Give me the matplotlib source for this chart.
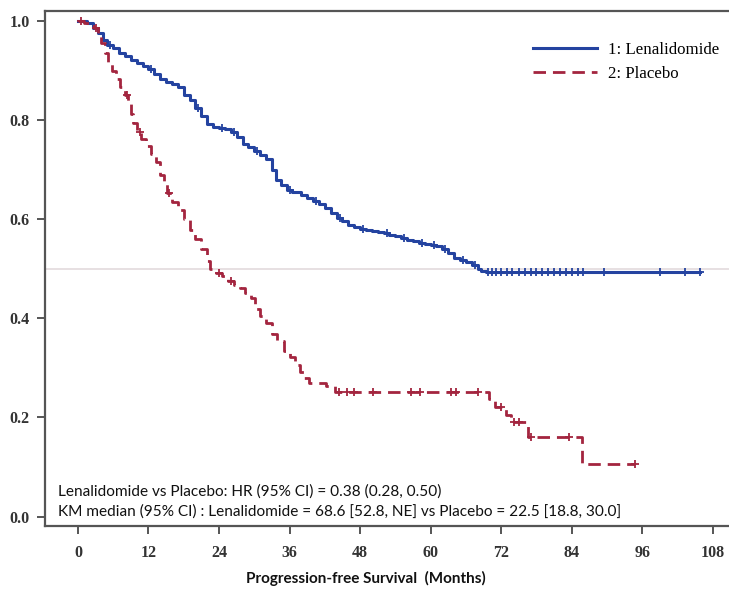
import matplotlib
matplotlib.use("Agg")
import matplotlib.pyplot as plt
import numpy as np

# ---------------- data ----------------
len_t = [0, 1.5, 2.5, 3.5, 4.2, 5, 6, 7, 8, 9, 10, 11, 12, 13, 14, 15, 16, 17, 18, 19, 20, 21, 22, 23,
         24, 25, 26, 27, 28, 29, 30, 31, 32, 33, 33.7, 34.5, 35.5, 36.5, 38, 39, 40, 41, 42, 43, 44, 45,
         46, 47, 48, 49, 50, 51, 52, 53, 54, 55, 56, 57, 58, 59, 60, 61, 62, 63, 64, 65, 66, 67, 68, 68.6,
         69.5, 105.8]
len_s = [1.0, 0.995, 0.985, 0.975, 0.962, 0.952, 0.945, 0.935, 0.93, 0.922, 0.915, 0.91, 0.902, 0.893,
         0.882, 0.876, 0.872, 0.866, 0.85, 0.84, 0.825, 0.808, 0.792, 0.785, 0.783, 0.782, 0.776, 0.765,
         0.752, 0.745, 0.738, 0.73, 0.722, 0.70, 0.68, 0.668, 0.659, 0.655, 0.648, 0.642, 0.636, 0.63,
         0.622, 0.612, 0.603, 0.596, 0.588, 0.584, 0.58, 0.578, 0.576, 0.574, 0.572, 0.568, 0.566, 0.562,
         0.558, 0.556, 0.552, 0.55, 0.548, 0.546, 0.54, 0.532, 0.522, 0.518, 0.514, 0.508, 0.50, 0.495,
         0.493, 0.493]
len_cens = [5.5, 12.5, 20.5, 24.5, 26.5, 30.5, 36, 40.5, 44.5, 48.5, 52.5, 55.5, 58.5, 60.5, 62.5, 65.5,
            67.5, 69.8, 70.5, 71.2, 72, 73, 73.8, 75, 76, 77, 78, 79, 80, 81, 82, 83, 84, 85, 86, 89.5,
            99, 103.3, 105.8]

pla_t = [0, 1, 2, 2.8, 3.5, 4, 4.6, 5.2, 5.8, 6.5, 7.2, 8, 8.6, 9, 9.4, 10, 10.8, 11.6, 12.4, 13.2, 14,
         14.6, 15.2, 16, 17, 18, 19, 20, 21, 22, 22.5, 23.5, 24.5, 25.5, 26.5, 27.5, 28.5, 29.5, 30.2, 31,
         32, 33, 33.8, 35, 36, 37, 37.8, 38.5, 39.3, 42.2, 43.8, 70, 71, 72.8, 73.6, 76.5, 85.7, 94.8]
pla_s = [1.0, 0.995, 0.99, 0.985, 0.97, 0.955, 0.935, 0.915, 0.898, 0.882, 0.866, 0.85, 0.832, 0.812,
         0.795, 0.776, 0.762, 0.748, 0.732, 0.716, 0.69, 0.672, 0.652, 0.635, 0.618, 0.60, 0.578, 0.56,
         0.54, 0.515, 0.50, 0.492, 0.485, 0.476, 0.468, 0.462, 0.452, 0.44, 0.418, 0.405, 0.39, 0.368,
         0.355, 0.335, 0.322, 0.305, 0.292, 0.28, 0.27, 0.264, 0.252, 0.238, 0.222, 0.205, 0.19, 0.16,
         0.107, 0.107]
pla_cens = [0.5, 3, 8.3, 10.5, 15.5, 24, 26, 44.4, 45.7, 46.9, 50.2, 56.6, 58.2, 63.5, 64.3, 68,
            72, 74.2, 75, 77, 83.5, 94.8]

x_ticks = [0, 12, 24, 36, 48, 60, 72, 84, 96, 108]
y_ticks = [0.0, 0.2, 0.4, 0.6, 0.8, 1.0]
series_names = ["1: Lenalidomide", "2: Placebo"]
annot_lines = ["Lenalidomide vs Placebo: HR (95% CI) = 0.38 (0.28, 0.50)",
               "KM median (95% CI) : Lenalidomide = 68.6 [52.8, NE] vs Placebo = 22.5 [18.8, 30.0]"]
xlabel = "Progression-free Survival  (Months)"

BLUE = "#2443a0"
RED = "#a3253f"


def step_value(ts, ss, t):
    idx = np.searchsorted(ts, t, side="right") - 1
    return np.asarray(ss)[idx]


fig = plt.figure(figsize=(7.29, 5.99), dpi=100)
ax = fig.add_axes([45 / 729, 73 / 599, 1 - 45 / 729 + 0.01, (526 - 11) / 599])

ax.axhline(0.5, color="#e3dadd", lw=1.2, zorder=1)

ax.step(len_t, len_s, where="post", color=BLUE, lw=2.2, zorder=3, label=series_names[0])
ax.step(pla_t, pla_s, where="post", color=RED, lw=2.0, zorder=3, dashes=(4.5, 2.5),
        label=series_names[1])

ax.plot(len_cens, step_value(len_t, len_s, len_cens), ls="none", marker="+", ms=6, mew=1.3,
        color=BLUE, zorder=4)
ax.plot(pla_cens, step_value(pla_t, pla_s, pla_cens), ls="none", marker="+", ms=6, mew=1.3,
        color=RED, zorder=4)

ax.set_xlim(-5.6, 112)
ax.set_ylim(-0.019, 1.02)
ax.set_xticks(x_ticks)
ax.set_yticks(y_ticks)
ax.set_xticklabels([str(v) for v in x_ticks])
ax.set_yticklabels([f"{v:.1f}" for v in y_ticks])

for sp in ["left", "bottom", "top"]:
    ax.spines[sp].set_color("#555555")
    ax.spines[sp].set_linewidth(1.6)
ax.spines["right"].set_visible(False)

ax.tick_params(axis="both", direction="out", length=6, width=1.4, color="#555555",
               labelsize=11.5, labelcolor="#333333", pad=5)
for lab in ax.get_xticklabels() + ax.get_yticklabels():
    lab.set_fontfamily("Liberation Serif")
    lab.set_fontweight("bold")
ax.tick_params(axis="x", pad=8)

leg = ax.legend(loc="upper left", bbox_to_anchor=(533 / 729, 1 - 42 / 599),
                bbox_transform=fig.transFigure, frameon=False, borderpad=0, borderaxespad=0,
                handlelength=3.8, handletextpad=0.65, labelspacing=0.45,
                prop={"family": "Liberation Serif", "size": 12.2})

ax.text(58 / 729, 1 - 492 / 599, annot_lines[0], transform=fig.transFigure,
        family="Lato", fontsize=11.1, color="#111111", va="center", ha="left")
ax.text(58 / 729, 1 - 512 / 599, annot_lines[1], transform=fig.transFigure,
        family="Lato", fontsize=11.1, color="#111111", va="center", ha="left")

fig.text(366 / 729, 1 - 578 / 599, xlabel, family="Lato", fontweight="bold", fontsize=11,
         color="#111111", ha="center", va="center")

fig.savefig("out.png", dpi=100, facecolor="white")
